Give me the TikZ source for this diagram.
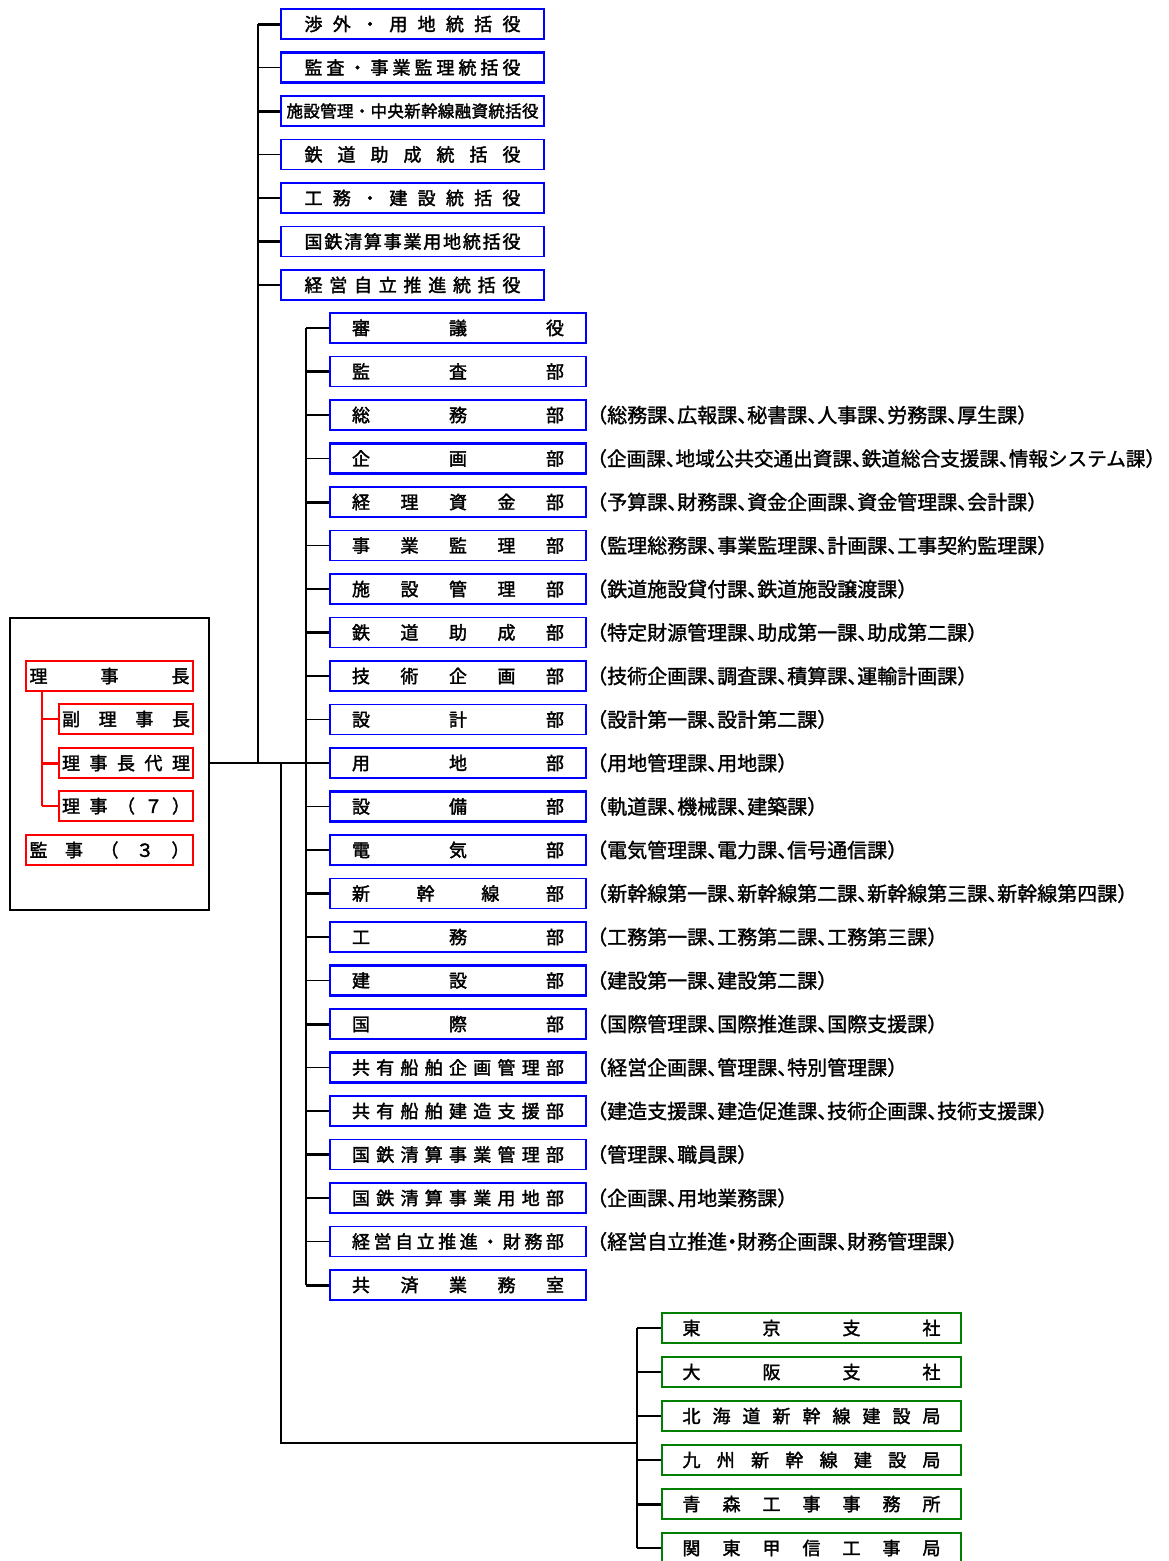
\documentclass[tikz,border=0pt]{standalone}
\usepackage{fontspec}
\newfontfamily\jp{Noto Sans CJK JP}[FakeBold=2]
\newfontfamily\jpa{Noto Sans CJK JP}[FakeBold=1.4,RawFeature=+halt]
\definecolor{grn}{RGB}{0,128,0}
\ExplSyntaxOn
\bool_new:N \l_spr_first_bool
\NewDocumentCommand \spr {mm}
 {
  \hbox_to_wd:nn {#1}
   {
    \bool_set_true:N \l_spr_first_bool
    \tl_map_inline:nn {#2}
     {
      \bool_if:NF \l_spr_first_bool { \hfill }
      \bool_set_false:N \l_spr_first_bool
      ##1
     }
   }
 }
\ExplSyntaxOff
\tikzset{
 lab/.style={inner sep=0pt, minimum height=30pt, font=\jp\fontsize{18}{18}\selectfont},
 topbox/.style={lab, draw=blue, line width=1.5pt, minimum width=263pt},
 dept/.style={lab, draw=blue, line width=1.5pt, minimum width=256pt},
 grnbox/.style={lab, draw=grn, line width=2.2pt, minimum width=299pt},
 redbox/.style={lab, draw=red, line width=2.2pt},
 heavy/.style={line width=2.6pt},
 trunk/.style={line width=2.3pt},
 br/.style={line width=1.3pt},
 brk/.style={line width=3pt},
 note/.style={anchor=west, inner sep=0pt, font=\jpa\fontsize{20}{20}\selectfont},
}
\begin{document}
\begin{tikzpicture}[x=1pt,y=-1pt]
\useasboundingbox (0,0) rectangle (1168,1561);
% junction coordinates
\coordinate (jT) at (258,763);
\coordinate (jB) at (281,763);
\coordinate (jM) at (306,763);
\coordinate (jG) at (637,1443);
\coordinate (rJ) at (42,700);
% left executive box
\node[draw=black, line width=1.2pt, minimum width=199pt, minimum height=292pt, inner sep=0pt] (outer) at (109.5,764) {};
\node[redbox, minimum width=167pt] (r1) at (109.5,676) {\spr{160pt}{理事長}};
\node[redbox, minimum width=134pt] (r2) at (126,719) {\spr{128pt}{副理事長}};
\node[redbox, minimum width=134pt] (r3) at (126,763) {\spr{128pt}{理事長代理}};
\node[redbox, minimum width=134pt, heavy] (r4) at (126,806) {\spr{128pt}{理事（７）}};
\node[redbox, minimum width=167pt, heavy] (r5) at (109.5,850) {\spr{160pt}{監事（３）}};
\draw[red, line width=2.5pt] (r1.south -| rJ) -- (r4.west -| rJ);
\draw[red, line width=1.3pt] (r2.west -| rJ) -- (r2.west);
\draw[red, line width=3pt] (r3.west -| rJ) -- (r3.west);
\draw[red, line width=1.3pt] (r4.west -| rJ) -- (r4.west);
% top group
\node[topbox] (t1) at (412.5,24) {\spr{216pt}{渉外・用地統括役}};
\node[topbox, heavy] (t2) at (412.5,67.5) {\spr{216pt}{監査・事業監理統括役}};
\node[topbox, font=\jp\fontsize{16.5}{16.5}\selectfont] (t3) at (412.5,111) {\spr{252pt}{施設管理・中央新幹線融資統括役}};
\node[topbox] (t4) at (412.5,154.5) {\spr{216pt}{鉄道助成統括役}};
\node[topbox, heavy] (t5) at (412.5,198) {\spr{216pt}{工務・建設統括役}};
\node[topbox] (t6) at (412.5,241.5) {\spr{216pt}{国鉄清算事業用地統括役}};
\node[topbox] (t7) at (412.5,285) {\spr{216pt}{経営自立推進統括役}};
% departments
\node[dept, heavy] (d1) at (458,328) {\spr{212pt}{審議役}};
\node[dept] (d2) at (458,371.5) {\spr{212pt}{監査部}};
\node[dept] (d3) at (458,415) {\spr{212pt}{総務部}};
\node[dept, heavy] (d4) at (458,458.5) {\spr{212pt}{企画部}};
\node[dept] (d5) at (458,502) {\spr{212pt}{経理資金部}};
\node[dept] (d6) at (458,545.5) {\spr{212pt}{事業監理部}};
\node[dept, heavy] (d7) at (458,589) {\spr{212pt}{施設管理部}};
\node[dept] (d8) at (458,632.5) {\spr{212pt}{鉄道助成部}};
\node[dept, heavy] (d9) at (458,676) {\spr{212pt}{技術企画部}};
\node[dept] (d10) at (458,719.5) {\spr{212pt}{設計部}};
\node[dept] (d11) at (458,763) {\spr{212pt}{用地部}};
\node[dept, heavy] (d12) at (458,806.5) {\spr{212pt}{設備部}};
\node[dept, heavy] (d13) at (458,850) {\spr{212pt}{電気部}};
\node[dept] (d14) at (458,893.5) {\spr{212pt}{新幹線部}};
\node[dept] (d15) at (458,937) {\spr{212pt}{工務部}};
\node[dept, heavy] (d16) at (458,980.5) {\spr{212pt}{建設部}};
\node[dept] (d17) at (458,1024) {\spr{212pt}{国際部}};
\node[dept, heavy] (d18) at (458,1067.5) {\spr{212pt}{共有船舶企画管理部}};
\node[dept] (d19) at (458,1111) {\spr{212pt}{共有船舶建造支援部}};
\node[dept] (d20) at (458,1154.5) {\spr{212pt}{国鉄清算事業管理部}};
\node[dept, heavy] (d21) at (458,1198) {\spr{212pt}{国鉄清算事業用地部}};
\node[dept] (d22) at (458,1241.5) {\spr{212pt}{経営自立推進・財務部}};
\node[dept] (d23) at (458,1285) {\spr{212pt}{共済業務室}};
% section notes
\node[note] (n3) at (597,415) {（総務課、広報課、秘書課、人事課、労務課、厚生課）};
\node[note, font=\jpa\fontsize{19.6}{20}\selectfont] (n4) at (597,458.5) {（企画課、地域公共交通出資課、鉄道総合支援課、情報システム課）};
\node[note] (n5) at (597,502) {（予算課、財務課、資金企画課、資金管理課、会計課）};
\node[note] (n6) at (597,545.5) {（監理総務課、事業監理課、計画課、工事契約監理課）};
\node[note] (n7) at (597,589) {（鉄道施設貸付課、鉄道施設譲渡課）};
\node[note] (n8) at (597,632.5) {（特定財源管理課、助成第一課、助成第二課）};
\node[note] (n9) at (597,676) {（技術企画課、調査課、積算課、運輸計画課）};
\node[note] (n10) at (597,719.5) {（設計第一課、設計第二課）};
\node[note] (n11) at (597,763) {（用地管理課、用地課）};
\node[note] (n12) at (597,806.5) {（軌道課、機械課、建築課）};
\node[note] (n13) at (597,850) {（電気管理課、電力課、信号通信課）};
\node[note] (n14) at (597,893.5) {（新幹線第一課、新幹線第二課、新幹線第三課、新幹線第四課）};
\node[note] (n15) at (597,937) {（工務第一課、工務第二課、工務第三課）};
\node[note] (n16) at (597,980.5) {（建設第一課、建設第二課）};
\node[note] (n17) at (597,1024) {（国際管理課、国際推進課、国際支援課）};
\node[note] (n18) at (597,1067.5) {（経営企画課、管理課、特別管理課）};
\node[note] (n19) at (597,1111) {（建造支援課、建造促進課、技術企画課、技術支援課）};
\node[note] (n20) at (597,1154.5) {（管理課、職員課）};
\node[note] (n21) at (597,1198) {（企画課、用地業務課）};
\node[note] (n22) at (597,1241.5) {（経営自立推進・財務企画課、財務管理課）};
% regional offices
\node[grnbox, heavy] (g1) at (811.5,1328) {\spr{258pt}{東京支社}};
\node[grnbox] (g2) at (811.5,1372) {\spr{258pt}{大阪支社}};
\node[grnbox, heavy] (g3) at (811.5,1416) {\spr{258pt}{北海道新幹線建設局}};
\node[grnbox, heavy] (g4) at (811.5,1460) {\spr{258pt}{九州新幹線建設局}};
\node[grnbox, heavy] (g5) at (811.5,1504) {\spr{258pt}{青森工事事務所}};
\node[grnbox, heavy] (g6) at (811.5,1548) {\spr{258pt}{関東甲信工事局}};
% trunks
\draw[trunk] (outer.east |- d11.west) -- (d11.west);
\draw[trunk] (t1.west -| jT) -- (jT);
\draw[trunk] (d1.west -| jM) -- (d23.west -| jM);
\draw[trunk] (jB) |- (jG);
\draw[trunk] (g1.west -| jG) -- (g6.west -| jG);
% branches
\foreach \n in {t2,t4,t5,t7} \draw[br] (\n.west -| jT) -- (\n.west);
\foreach \n in {t1,t3,t6} \draw[brk] (\n.west -| jT) -- (\n.west);
\foreach \n in {d1,d3,d4,d6,d7,d9,d10,d12,d13,d15,d16,d18,d19,d21,d22} \draw[br] (\n.west -| jM) -- (\n.west);
\foreach \n in {d2,d5,d8,d14,d17,d20,d23} \draw[brk] (\n.west -| jM) -- (\n.west);
\foreach \n in {g1,g2,g3,g4,g6} \draw[br] (\n.west -| jG) -- (\n.west);
\draw[brk] (g5.west -| jG) -- (g5.west);
\end{tikzpicture}
\end{document}
